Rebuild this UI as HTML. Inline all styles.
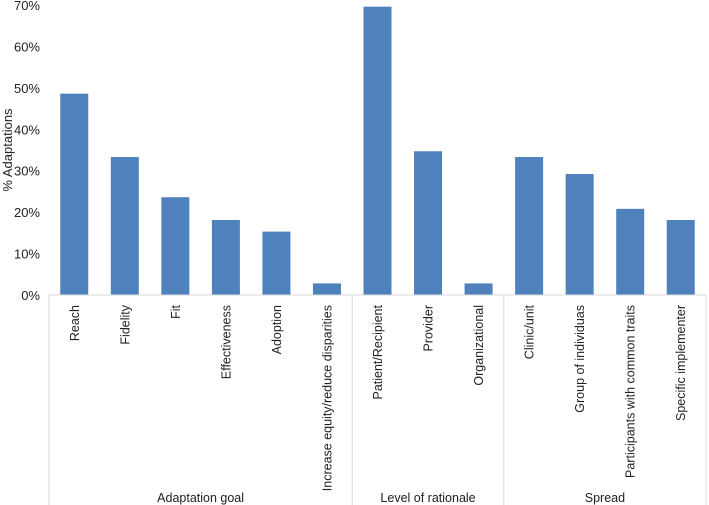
<!DOCTYPE html>
<html><head><meta charset="utf-8"><style>body{margin:0;background:#fff}svg{display:block;font-family:"Liberation Sans",Arial,sans-serif}</style></head>
<body>
<svg id="c" width="709" height="505"></svg>
<script>
const categories=["Reach","Fidelity","Fit","Effectiveness","Adoption","Increase equity/reduce disparities","Patient/Recipient","Provider","Organizational","Clinic/unit","Group of individuas","Participants with common traits","Specific implementer"];
const values=[48.6,33.3,23.6,18.1,15.3,2.8,69.6,34.7,2.8,33.3,29.2,20.8,18.1];
const groups=["Adaptation goal","Level of rationale","Spread"];
const groupSizes=[6,3,4];
const yTicks=[0,10,20,30,40,50,60,70];
const svg=document.getElementById('c');const NS='http://www.w3.org/2000/svg';
const L=49,R=706,T=5,B=295,yMax=70;
const step=(R-L)/categories.length;
const y=v=>B-(v/yMax)*(B-T);
const x=i=>L+step*(i+0.5);
function mk(t,a,txt){const e=document.createElementNS(NS,t);for(const k in a)e.setAttribute(k,a[k]);if(txt!=null)e.textContent=txt;svg.appendChild(e);return e;}
yTicks.forEach(v=>{const t=mk('text',{x:40,y:y(v)+5,'text-anchor':'end','font-size':13,fill:'#222'},v+'%');

});
const yt=mk('text',{x:0,y:0,transform:'translate(12,150) rotate(-90)','text-anchor':'middle','font-size':13,fill:'#222'},'% Adaptations');


values.forEach((v,i)=>{const r=mk('rect',{x:x(i)-14,y:y(v),width:28,height:B-y(v),fill:'#4f81bd'});


const t=mk('text',{x:0,y:0,transform:`translate(${x(i)+4.5},305) rotate(-90)`,'text-anchor':'end','font-size':12.5,fill:'#222'},categories[i]);

});
const ax=mk('line',{x1:L,x2:R,y1:B,y2:B,stroke:'#d9d9d9'});


let s=0;
const sep=mk('line',{x1:L,x2:L,y1:B,y2:505,stroke:'#d9d9d9'});


groups.forEach((g,k)=>{const a=L+s*step;s+=groupSizes[k];const b=L+s*step;
const l=mk('line',{x1:b,x2:b,y1:B,y2:505,stroke:'#d9d9d9'});


const t=mk('text',{x:(a+b)/2,y:502,'text-anchor':'middle','font-size':12.5,fill:'#222'},g);

});
</script>
</body></html>
